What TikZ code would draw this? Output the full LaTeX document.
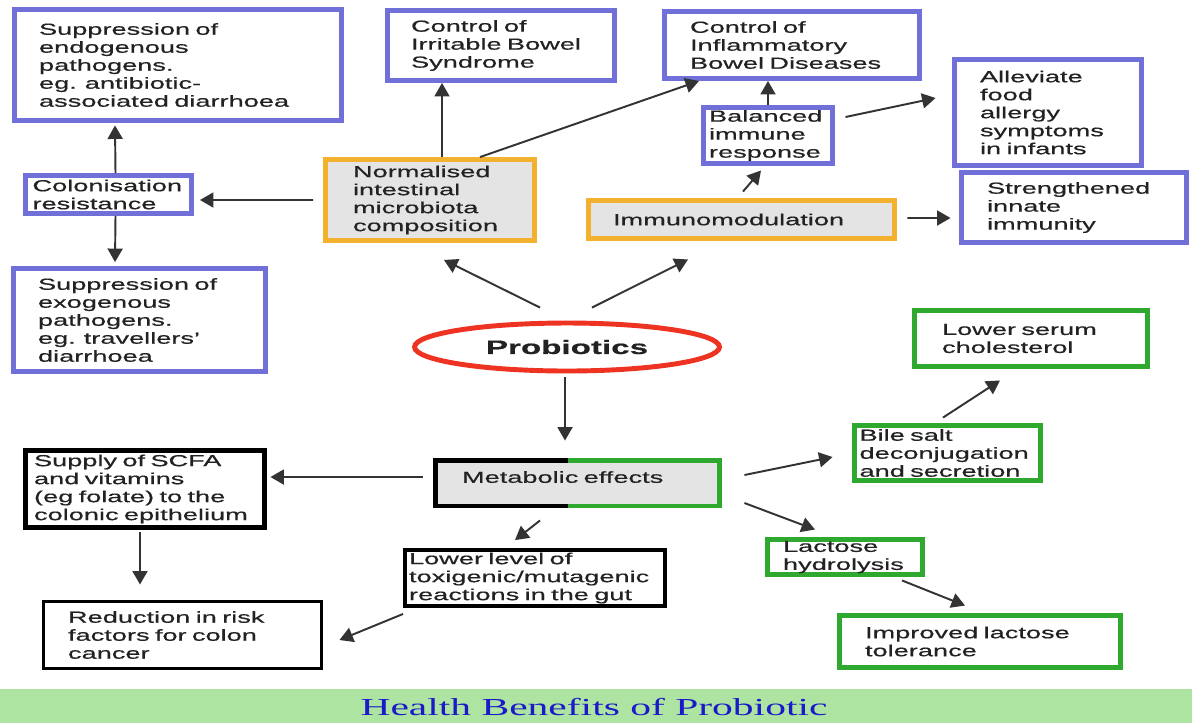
\documentclass[tikz,border=0pt]{standalone}
\usepackage{fontspec}
\setmainfont{Liberation Sans}[FakeStretch=1.7,FakeBold=0.5]
\newfontfamily\capfont{Liberation Serif}[FakeStretch=1.7]
\usetikzlibrary{arrows.meta,shapes.geometric,calc}

\definecolor{boxblue}{HTML}{7070D8}
\definecolor{boxorange}{HTML}{F2B230}
\definecolor{boxgreen}{HTML}{2FA82F}
\definecolor{probred}{HTML}{EE3322}
\definecolor{fillgrey}{HTML}{E4E4E4}
\definecolor{txtgrey}{HTML}{222222}
\definecolor{arrgrey}{HTML}{333333}
\definecolor{capgreen}{HTML}{AEE4A2}
\definecolor{capblue}{HTML}{1A1AC8}

\begin{document}
\begin{tikzpicture}[x=0.02cm, y=-0.02cm,
    box/.style={draw, line width=2.8pt, fill=white, inner sep=0pt, text=txtgrey,
      align=left, font=\fontsize{9.1pt}{10.24pt}\selectfont},
    bluebox/.style={box, draw=boxblue},
    orangebox/.style={box, draw=boxorange, fill=fillgrey},
    greenbox/.style={box, draw=boxgreen},
    blackbox/.style={box, draw=black},
    arr/.style={-{Triangle[length=0.27cm,width=0.3cm]}, line width=1.1pt, draw=arrgrey}]

    \useasboundingbox (0,0) rectangle (1192,725);
    \fill[white] (0,0) rectangle (1192,725);

    % caption band
    \fill[capgreen] (0,689) rectangle (1192,723);
    \node[text=capblue, font=\capfont\fontsize{13.9pt}{16pt}\selectfont] (cap) at (594,707) {Health Benefits of Probiotic};

    % top half
    \node[bluebox, minimum width=6.54cm, minimum height=2.22cm, text width=5.56cm] (endo) at (178,65)
        {Suppression of\\ endogenous\\ pathogens.\\ eg. antibiotic-\\ associated diarrhoea};
    \node[bluebox, minimum width=4.54cm, minimum height=1.40cm, text width=3.6cm] (ibs) at (501,45.5)
        {Control of\\ Irritable Bowel\\ Syndrome};
    \node[bluebox, minimum width=5.10cm, minimum height=1.34cm, text width=4.08cm] (ibd) at (792,45)
        {Control of\\ Inflammatory\\ Bowel Diseases};
    \node[bluebox, minimum width=3.74cm, minimum height=2.12cm, text width=2.72cm] (alle) at (1048,112.5)
        {Alleviate\\ food\\ allergy\\ symptoms\\ in infants};
    \node[bluebox, minimum width=2.58cm, minimum height=1.12cm, text width=2.36cm] (bal) at (768,135.5)
        {Balanced\\ immune\\ response};
    \node[bluebox, minimum width=4.5cm, minimum height=1.4cm, text width=3.48cm] (str) at (1074,207.5)
        {Strengthened\\ innate\\ immunity};
    \node[bluebox, minimum width=3.32cm, minimum height=0.76cm, text width=3.04cm] (colon) at (108.5,194.5)
        {Colonisation\\ resistance};
    \node[orangebox, minimum width=4.18cm, minimum height=1.62cm, text width=3.08cm] (norm) at (430,200)
        {Normalised\\ intestinal\\ microbiota\\ composition};
    \node[orangebox, minimum width=6.12cm, minimum height=0.76cm, text width=5.14cm] (immuno) at (741.5,219.5)
        {Immunomodulation};
    \node[bluebox, minimum width=5.04cm, minimum height=2.06cm, text width=4.06cm] (exo) at (139.5,320)
        {Suppression of\\ exogenous\\ pathogens.\\ eg. travellers'\\ diarrhoea};

    \node[ellipse, draw=probred, line width=2.8pt, fill=white, inner sep=0pt, text=txtgrey,
        minimum width=6.1cm, minimum height=0.96cm, font=\bfseries\fontsize{11.1pt}{13pt}\selectfont]
        (prob) at (567,347) {Probiotics};

    % bottom half
    \node[greenbox, minimum width=4.66cm, minimum height=1.12cm, text width=3.56cm] (serum) at (1031,338.5)
        {Lower serum\\ cholesterol};
    \node[greenbox, minimum width=3.72cm, minimum height=1.10cm, text width=3.52cm] (bile) at (947.5,453)
        {Bile salt\\ deconjugation\\ and secretion};
    \node[box, draw=none, fill=fillgrey, minimum width=5.6cm, minimum height=0.82cm, text width=4.62cm] (meta) at (577.5,483)
        {\raisebox{0.24cm}{Metabolic effects}};
    \draw[line width=2.8pt, black] ($(meta.north)+(-10,0)$) -- (meta.north west) -- (meta.south west) -- ($(meta.south)+(-10,0)$);
    \draw[line width=2.8pt, boxgreen] ($(meta.north)+(-10,0)$) -- (meta.north east) -- (meta.south east) -- ($(meta.south)+(-10,0)$);
    \node[blackbox, minimum width=4.78cm, minimum height=1.54cm, text width=4.44cm] (supply) at (145,489)
        {Supply of SCFA\\ and vitamins\\ (eg folate) to the\\ colonic epithelium};
    \node[blackbox, line width=2.2pt, minimum width=5.2cm, minimum height=1.12cm, text width=5.04cm] (low) at (535,578)
        {Lower level of\\ toxigenic/mutagenic\\ reactions in the gut};
    \node[blackbox, line width=1.7pt, minimum width=5.56cm, minimum height=1.34cm, text width=4.58cm] (red) at (182.5,635)
        {Reduction in risk\\ factors for colon\\ cancer};
    \node[greenbox, minimum width=3.1cm, minimum height=0.7cm, text width=2.48cm] (lact) at (845,557)
        {Lactose\\ hydrolysis};
    \node[greenbox, minimum width=5.62cm, minimum height=1.04cm, text width=4.6cm] (impr) at (980,641.5)
        {Improved lactose\\ tolerance};

    % connectors
    \draw[arr] ($(prob.north)+(-27,-13)$) -- ($(norm.south)+(14,17)$);
    \draw[arr] ($(prob.north)+(25,-13)$) -- ($(immuno.south)+(-53.5,18.5)$);
    \draw[arr] ($(prob.south)+(-2,4)$) -- ($(meta.north)+(-12.5,-19.5)$);
    \draw[arr] ($(norm.west)+(-10,0)$) -- ($(colon.east)+(6,5.5)$);
    \draw[arr] ($(colon.north)+(7,0)$) -- ($(endo.south)+(-63,2.5)$);
    \draw[arr] ($(colon.south)+(7,0)$) -- ($(exo.north)+(-24.5,-4)$);
    \draw[arr] ($(norm.north)+(12,0)$) -- ($(ibs.south)+(-59,0)$);
    \draw[arr] ($(norm.north)+(50,0)$) -- ($(ibd.south)+(-93,0)$);
    \draw[arr] ($(immuno.north)+(1.5,-6.5)$) -- ($(bal.south)+(-7,4.5)$);
    \draw[arr] (bal.north) -- (bal.north |- ibd.south);
    \draw[arr] ($(bal.east)+(10.5,-18.5)$) -- ($(alle.west)+(-16.5,-14.5)$);
    \draw[arr] ($(immuno.east)+(10.5,-1.5)$) -- ($(str.west)+(-8.5,10.5)$);
    \draw[arr] ($(meta.west)+(-12.5,-6)$) -- ($(supply.east)+(3.5,-12)$);
    \draw[arr] ($(meta.south)+(-37.5,14.5)$) -- ($(low.north)+(-20,-8)$);
    \draw[arr] ($(meta.east)+(24.5,-8)$) -- ($(bile.west)+(-19.5,4)$);
    \draw[arr] ($(meta.east)+(24.5,20)$) -- ($(lact.north)+(-30,-7.5)$);
    \draw[arr] ($(bile.north)+(-4.5,-5.5)$) -- ($(serum.south)+(-31,11.5)$);
    \draw[arr] ($(supply.south)+(-5,2.5)$) -- ($(red.north)+(-42.5,-15.5)$);
    \draw[arr] ($(low.south west)+(0,6)$) -- ($(red.east)+(16.5,5)$);
    \draw[arr] ($(lact.south)+(57,3.5)$) -- ($(impr.north)+(-15,-7.5)$);

\end{tikzpicture}
\end{document}
